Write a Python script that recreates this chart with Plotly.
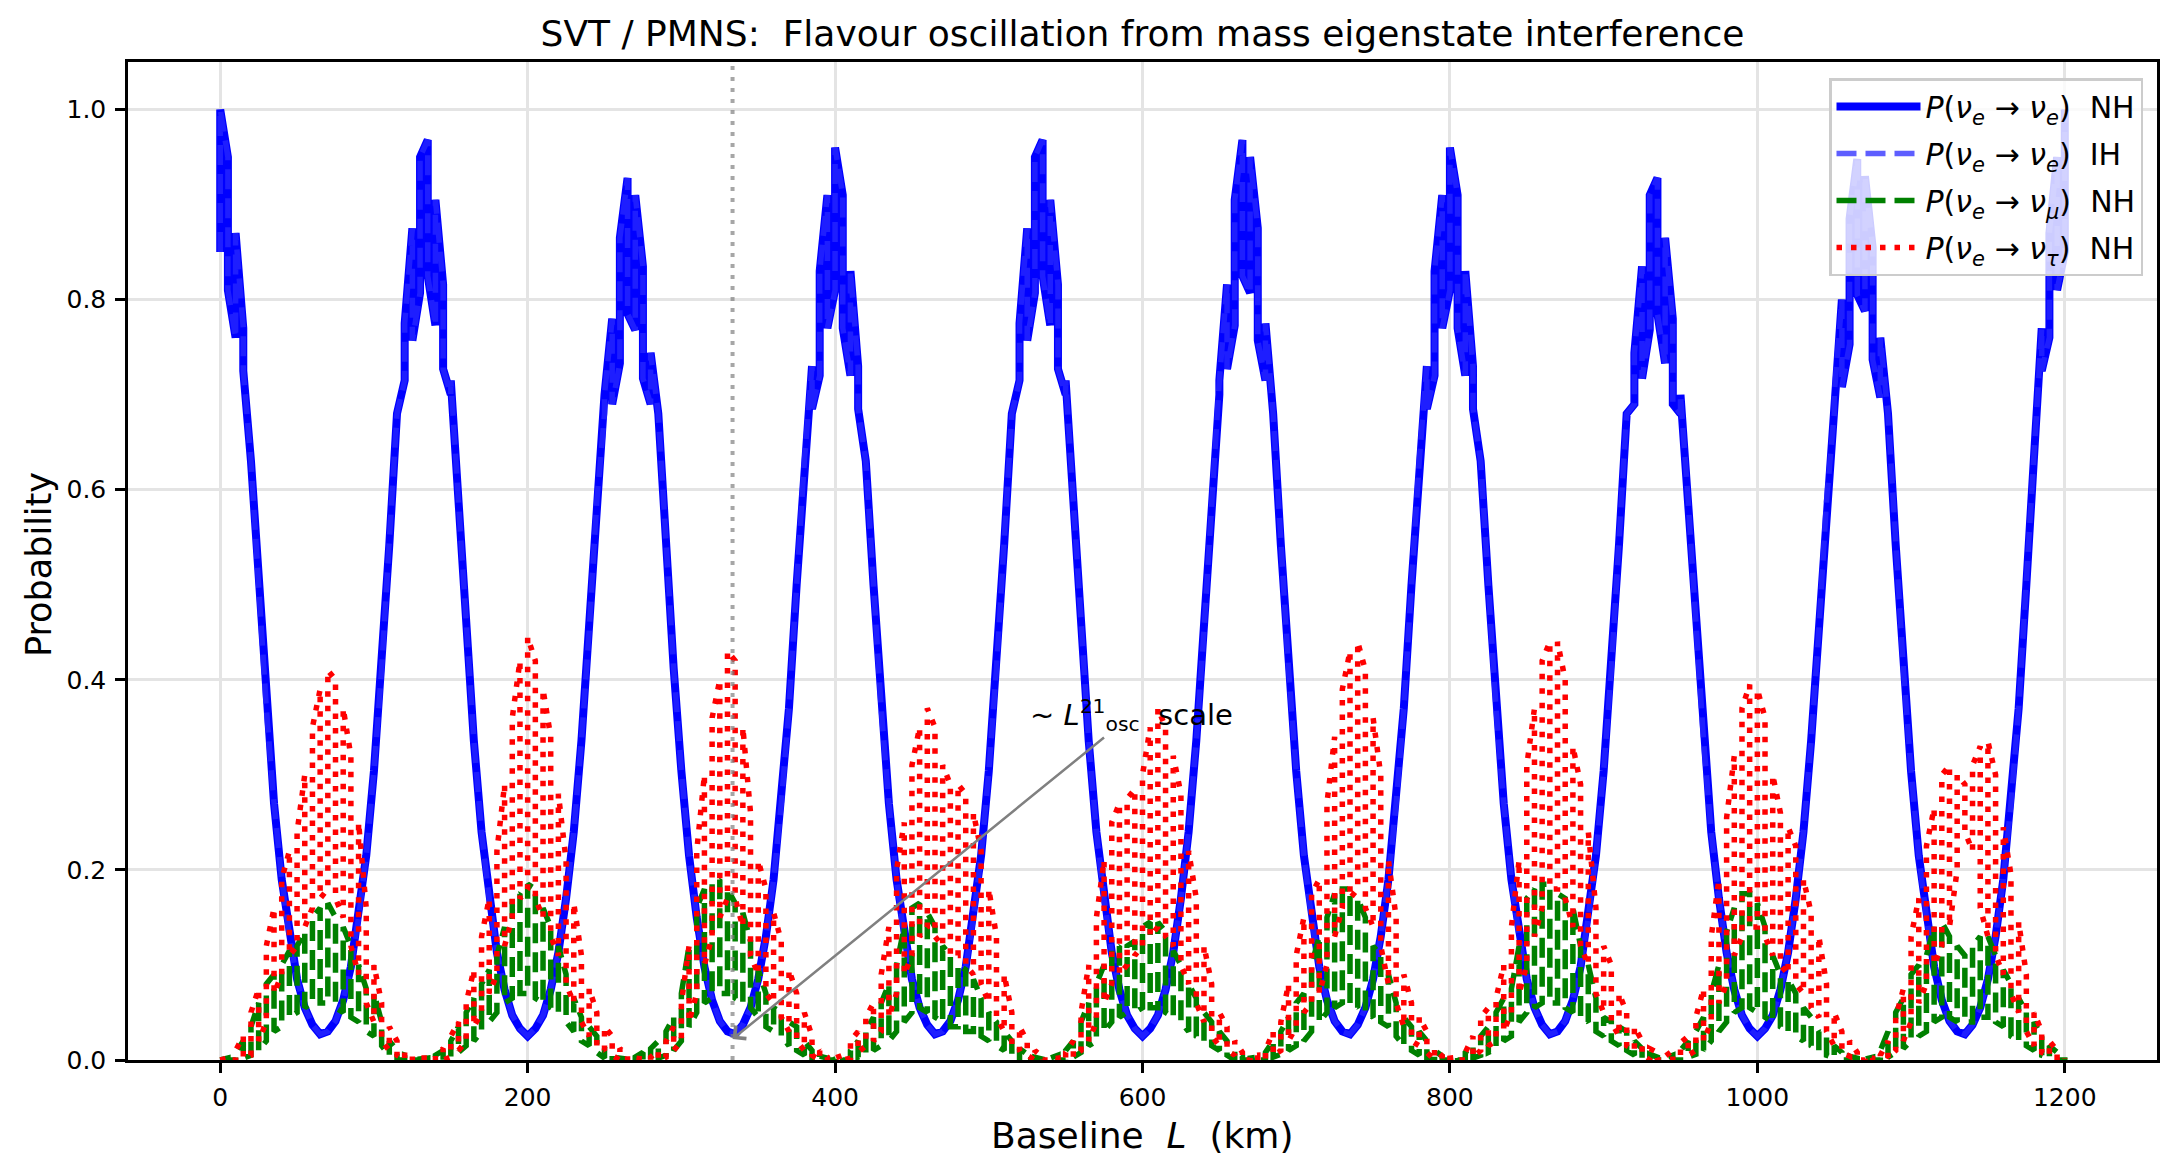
import plotly.graph_objects as go

# ---------------- data (5 km grid) ----------------
baseline_km = list(range(0, 1201, 5))

# P(nu_e -> nu_e), normal hierarchy: upper / lower edge of the fast wiggle
pee_nh_hi = [
    1.0, 0.95, 0.87, 0.77, 0.63, 0.50, 0.37, 0.27, 0.19, 0.13,
    0.085, 0.055, 0.037, 0.027, 0.03, 0.041, 0.063, 0.098, 0.15, 0.215,
    0.304, 0.412, 0.542, 0.68, 0.775, 0.875, 0.95, 0.968, 0.905, 0.816,
    0.715, 0.588, 0.452, 0.336, 0.24, 0.17, 0.113, 0.074, 0.047, 0.033,
    0.025, 0.033, 0.047, 0.074, 0.113, 0.17, 0.24, 0.336, 0.452, 0.588,
    0.70, 0.78, 0.865, 0.928, 0.91, 0.835, 0.744, 0.68, 0.542, 0.412,
    0.304, 0.215, 0.15, 0.098, 0.063, 0.041, 0.03, 0.027, 0.037, 0.055,
    0.085, 0.13, 0.19, 0.27, 0.37, 0.50, 0.63, 0.73, 0.83, 0.91,
    0.96, 0.91, 0.83, 0.73, 0.63, 0.50, 0.37, 0.27, 0.19, 0.13,
    0.085, 0.055, 0.037, 0.027, 0.03, 0.041, 0.063, 0.098, 0.15, 0.215,
    0.304, 0.412, 0.542, 0.68, 0.775, 0.875, 0.95, 0.968, 0.905, 0.816,
    0.715, 0.588, 0.452, 0.336, 0.24, 0.17, 0.113, 0.074, 0.047, 0.033,
    0.025, 0.033, 0.047, 0.074, 0.113, 0.17, 0.24, 0.336, 0.452, 0.588,
    0.715, 0.816, 0.905, 0.968, 0.95, 0.875, 0.775, 0.68, 0.542, 0.412,
    0.304, 0.215, 0.15, 0.098, 0.063, 0.041, 0.03, 0.027, 0.037, 0.055,
    0.085, 0.13, 0.19, 0.27, 0.37, 0.50, 0.63, 0.73, 0.83, 0.91,
    0.96, 0.91, 0.83, 0.73, 0.63, 0.50, 0.37, 0.27, 0.19, 0.13,
    0.085, 0.055, 0.037, 0.027, 0.03, 0.041, 0.063, 0.098, 0.15, 0.215,
    0.304, 0.412, 0.542, 0.68, 0.744, 0.835, 0.91, 0.928, 0.865, 0.78,
    0.70, 0.588, 0.452, 0.336, 0.24, 0.17, 0.113, 0.074, 0.047, 0.033,
    0.025, 0.033, 0.047, 0.074, 0.113, 0.17, 0.24, 0.336, 0.452, 0.588,
    0.70, 0.80, 0.885, 0.948, 0.93, 0.855, 0.76, 0.68, 0.542, 0.412,
    0.304, 0.215, 0.15, 0.098, 0.063, 0.041, 0.03, 0.027, 0.037, 0.055,
    0.085, 0.13, 0.19, 0.27, 0.37, 0.50, 0.63, 0.77, 0.87, 0.95,
    1.0,
]
pee_nh_lo = [
    0.85, 0.81, 0.76, 0.725, 0.63, 0.50, 0.37, 0.27, 0.19, 0.13,
    0.085, 0.055, 0.037, 0.027, 0.03, 0.041, 0.063, 0.098, 0.15, 0.215,
    0.304, 0.412, 0.542, 0.68, 0.715, 0.757, 0.807, 0.825, 0.773, 0.727,
    0.70, 0.588, 0.452, 0.336, 0.24, 0.17, 0.113, 0.074, 0.047, 0.033,
    0.025, 0.033, 0.047, 0.074, 0.113, 0.17, 0.24, 0.336, 0.452, 0.588,
    0.68, 0.69, 0.733, 0.785, 0.768, 0.717, 0.69, 0.68, 0.542, 0.412,
    0.304, 0.215, 0.15, 0.098, 0.063, 0.041, 0.03, 0.027, 0.037, 0.055,
    0.085, 0.13, 0.19, 0.27, 0.37, 0.50, 0.63, 0.685, 0.72, 0.77,
    0.81, 0.77, 0.72, 0.685, 0.63, 0.50, 0.37, 0.27, 0.19, 0.13,
    0.085, 0.055, 0.037, 0.027, 0.03, 0.041, 0.063, 0.098, 0.15, 0.215,
    0.304, 0.412, 0.542, 0.68, 0.715, 0.757, 0.807, 0.825, 0.773, 0.727,
    0.70, 0.588, 0.452, 0.336, 0.24, 0.17, 0.113, 0.074, 0.047, 0.033,
    0.025, 0.033, 0.047, 0.074, 0.113, 0.17, 0.24, 0.336, 0.452, 0.588,
    0.70, 0.727, 0.773, 0.825, 0.807, 0.757, 0.715, 0.68, 0.542, 0.412,
    0.304, 0.215, 0.15, 0.098, 0.063, 0.041, 0.03, 0.027, 0.037, 0.055,
    0.085, 0.13, 0.19, 0.27, 0.37, 0.50, 0.63, 0.685, 0.72, 0.77,
    0.81, 0.77, 0.72, 0.685, 0.63, 0.50, 0.37, 0.27, 0.19, 0.13,
    0.085, 0.055, 0.037, 0.027, 0.03, 0.041, 0.063, 0.098, 0.15, 0.215,
    0.304, 0.412, 0.542, 0.68, 0.69, 0.717, 0.768, 0.785, 0.733, 0.69,
    0.68, 0.588, 0.452, 0.336, 0.24, 0.17, 0.113, 0.074, 0.047, 0.033,
    0.025, 0.033, 0.047, 0.074, 0.113, 0.17, 0.24, 0.336, 0.452, 0.588,
    0.68, 0.708, 0.753, 0.805, 0.788, 0.737, 0.697, 0.68, 0.542, 0.412,
    0.304, 0.215, 0.15, 0.098, 0.063, 0.041, 0.03, 0.027, 0.037, 0.055,
    0.085, 0.13, 0.19, 0.27, 0.37, 0.50, 0.63, 0.725, 0.76, 0.81,
    0.85,
]

# P(nu_e -> nu_e), inverted hierarchy: coincides with NH within the line width
pee_ih_hi = list(pee_nh_hi)
pee_ih_lo = list(pee_nh_lo)

# P(nu_e -> nu_mu), NH
pemu_nh_hi = [
    0, 0.002, 0.008, 0.02, 0.035, 0.06, 0.08, 0.09, 0.10, 0.115,
    0.12, 0.135, 0.15, 0.16, 0.165, 0.15, 0.14, 0.12, 0.10, 0.075,
    0.07, 0.04, 0.02, 0.01, 0.005, 0.002, 0.001, 0.002, 0.005, 0.01,
    0.02, 0.035, 0.05, 0.065, 0.08, 0.095, 0.11, 0.14, 0.17, 0.175,
    0.185, 0.18, 0.16, 0.14, 0.12, 0.09, 0.065, 0.045, 0.035, 0.025,
    0.012, 0.005, 0.002, 0.001, 0.003, 0.008, 0.012, 0.02, 0.03, 0.045,
    0.07, 0.12, 0.16, 0.18, 0.185, 0.19, 0.18, 0.165, 0.155, 0.125,
    0.095, 0.07, 0.055, 0.05, 0.04, 0.035, 0.02, 0.01, 0.004, 0.002,
    0.001, 0.004, 0.01, 0.02, 0.03, 0.045, 0.06, 0.08, 0.10, 0.14,
    0.16, 0.165, 0.155, 0.14, 0.12, 0.11, 0.10, 0.095, 0.085, 0.065,
    0.05, 0.04, 0.03, 0.02, 0.012, 0.006, 0.003, 0.001, 0.002, 0.005,
    0.01, 0.02, 0.04, 0.06, 0.08, 0.10, 0.115, 0.12, 0.12, 0.125,
    0.14, 0.145, 0.145, 0.135, 0.115, 0.10, 0.08, 0.065, 0.05, 0.04,
    0.03, 0.02, 0.01, 0.004, 0.002, 0.003, 0.008, 0.02, 0.03, 0.045,
    0.06, 0.07, 0.10, 0.13, 0.15, 0.175, 0.18, 0.18, 0.17, 0.15,
    0.12, 0.11, 0.09, 0.06, 0.045, 0.035, 0.03, 0.02, 0.01, 0.004,
    0.002, 0.003, 0.008, 0.015, 0.025, 0.035, 0.05, 0.065, 0.075, 0.12,
    0.17, 0.18, 0.185, 0.185, 0.175, 0.17, 0.16, 0.12, 0.10, 0.065,
    0.045, 0.04, 0.035, 0.03, 0.02, 0.012, 0.006, 0.003, 0.002, 0.005,
    0.01, 0.02, 0.03, 0.045, 0.07, 0.10, 0.135, 0.16, 0.175, 0.175,
    0.165, 0.14, 0.11, 0.09, 0.085, 0.07, 0.055, 0.045, 0.03, 0.025,
    0.015, 0.008, 0.004, 0.002, 0.001, 0.003, 0.01, 0.03, 0.05, 0.065,
    0.09, 0.10, 0.11, 0.14, 0.145, 0.13, 0.12, 0.11, 0.12, 0.13,
    0.13, 0.11, 0.095, 0.08, 0.065, 0.05, 0.04, 0.025, 0.015, 0.008,
    0.003,
]
pemu_nh_lo = [
    0, 0, 0, 0.002, 0.005, 0.01, 0.02, 0.03, 0.035, 0.045,
    0.05, 0.055, 0.06, 0.06, 0.06, 0.055, 0.05, 0.045, 0.04, 0.03,
    0.025, 0.015, 0.005, 0, 0, 0, 0, 0, 0, 0,
    0.003, 0.008, 0.015, 0.02, 0.03, 0.04, 0.05, 0.06, 0.065, 0.07,
    0.07, 0.065, 0.06, 0.055, 0.05, 0.04, 0.03, 0.02, 0.015, 0.008,
    0.002, 0, 0, 0, 0, 0, 0, 0.002, 0.005, 0.01,
    0.02, 0.035, 0.05, 0.06, 0.065, 0.07, 0.07, 0.065, 0.06, 0.055,
    0.045, 0.035, 0.03, 0.025, 0.015, 0.01, 0.005, 0, 0, 0,
    0, 0, 0, 0.003, 0.006, 0.01, 0.015, 0.02, 0.03, 0.04,
    0.05, 0.055, 0.05, 0.045, 0.04, 0.035, 0.035, 0.03, 0.03, 0.025,
    0.02, 0.015, 0.01, 0.005, 0, 0, 0, 0, 0, 0,
    0, 0.003, 0.008, 0.015, 0.02, 0.03, 0.04, 0.045, 0.05, 0.05,
    0.055, 0.055, 0.055, 0.05, 0.045, 0.04, 0.03, 0.025, 0.02, 0.015,
    0.01, 0.005, 0, 0, 0, 0, 0, 0.003, 0.006, 0.01,
    0.015, 0.02, 0.03, 0.04, 0.05, 0.055, 0.06, 0.06, 0.055, 0.05,
    0.045, 0.04, 0.035, 0.025, 0.015, 0.01, 0.005, 0.002, 0, 0,
    0, 0, 0, 0.002, 0.005, 0.008, 0.012, 0.02, 0.025, 0.04,
    0.05, 0.055, 0.06, 0.06, 0.06, 0.055, 0.05, 0.045, 0.04, 0.03,
    0.025, 0.02, 0.015, 0.01, 0.005, 0.002, 0, 0, 0, 0,
    0, 0.003, 0.006, 0.01, 0.02, 0.03, 0.04, 0.05, 0.055, 0.055,
    0.05, 0.045, 0.04, 0.035, 0.03, 0.025, 0.02, 0.015, 0.01, 0.005,
    0.002, 0, 0, 0, 0, 0, 0, 0.003, 0.008, 0.012,
    0.02, 0.025, 0.03, 0.04, 0.045, 0.045, 0.04, 0.04, 0.04, 0.045,
    0.045, 0.04, 0.035, 0.025, 0.02, 0.015, 0.01, 0.005, 0.002, 0,
    0,
]

# P(nu_e -> nu_tau), NH
petau_nh_hi = [
    0, 0.002, 0.01, 0.025, 0.05, 0.075, 0.12, 0.16, 0.19, 0.22,
    0.24, 0.30, 0.35, 0.39, 0.41, 0.40, 0.37, 0.32, 0.25, 0.16,
    0.10, 0.06, 0.035, 0.02, 0.008, 0.004, 0.002, 0.002, 0.005, 0.012,
    0.025, 0.04, 0.06, 0.095, 0.13, 0.17, 0.22, 0.29, 0.36, 0.42,
    0.445, 0.42, 0.39, 0.34, 0.28, 0.21, 0.165, 0.11, 0.075, 0.05,
    0.035, 0.025, 0.012, 0.005, 0.002, 0.001, 0.003, 0.01, 0.02, 0.035,
    0.06, 0.12, 0.22, 0.30, 0.36, 0.40, 0.43, 0.42, 0.35, 0.26,
    0.21, 0.18, 0.155, 0.125, 0.095, 0.07, 0.05, 0.025, 0.01, 0.003,
    0.002, 0.005, 0.02, 0.03, 0.045, 0.06, 0.09, 0.14, 0.20, 0.25,
    0.31, 0.35, 0.37, 0.35, 0.31, 0.29, 0.29, 0.28, 0.26, 0.22,
    0.18, 0.13, 0.09, 0.05, 0.035, 0.02, 0.01, 0.003, 0.001, 0.002,
    0.008, 0.02, 0.05, 0.10, 0.15, 0.21, 0.25, 0.27, 0.275, 0.285,
    0.30, 0.35, 0.37, 0.35, 0.32, 0.28, 0.22, 0.17, 0.12, 0.08,
    0.05, 0.035, 0.02, 0.008, 0.004, 0.005, 0.01, 0.03, 0.04, 0.08,
    0.11, 0.15, 0.175, 0.19, 0.27, 0.34, 0.39, 0.43, 0.44, 0.41,
    0.36, 0.30, 0.21, 0.15, 0.09, 0.06, 0.045, 0.03, 0.012, 0.004,
    0.002, 0.003, 0.008, 0.025, 0.045, 0.055, 0.065, 0.10, 0.14, 0.21,
    0.31, 0.37, 0.42, 0.44, 0.44, 0.40, 0.33, 0.29, 0.24, 0.16,
    0.12, 0.10, 0.07, 0.05, 0.035, 0.02, 0.012, 0.008, 0.004, 0.01,
    0.018, 0.025, 0.045, 0.075, 0.13, 0.19, 0.255, 0.32, 0.37, 0.395,
    0.39, 0.36, 0.30, 0.26, 0.245, 0.225, 0.19, 0.155, 0.13, 0.08,
    0.05, 0.03, 0.02, 0.008, 0.004, 0.002, 0.005, 0.02, 0.045, 0.075,
    0.13, 0.17, 0.225, 0.265, 0.30, 0.31, 0.30, 0.29, 0.31, 0.33,
    0.335, 0.30, 0.245, 0.195, 0.145, 0.09, 0.05, 0.03, 0.02, 0.01,
    0.002,
]
petau_nh_lo = [
    0, 0, 0, 0.002, 0.005, 0.02, 0.04, 0.07, 0.09, 0.11,
    0.12, 0.14, 0.16, 0.17, 0.18, 0.17, 0.15, 0.12, 0.09, 0.06,
    0.04, 0.02, 0.01, 0.005, 0, 0, 0, 0, 0, 0,
    0.003, 0.01, 0.02, 0.035, 0.05, 0.07, 0.09, 0.12, 0.15, 0.17,
    0.18, 0.17, 0.15, 0.13, 0.11, 0.08, 0.06, 0.04, 0.025, 0.015,
    0.01, 0.005, 0, 0, 0, 0, 0, 0, 0.003, 0.01,
    0.02, 0.04, 0.07, 0.10, 0.13, 0.15, 0.17, 0.17, 0.14, 0.11,
    0.09, 0.07, 0.06, 0.045, 0.03, 0.02, 0.01, 0.005, 0, 0,
    0, 0, 0.002, 0.008, 0.015, 0.02, 0.03, 0.045, 0.07, 0.09,
    0.11, 0.13, 0.14, 0.13, 0.12, 0.11, 0.11, 0.10, 0.09, 0.08,
    0.06, 0.045, 0.03, 0.015, 0.01, 0.005, 0, 0, 0, 0,
    0, 0.003, 0.01, 0.02, 0.04, 0.06, 0.08, 0.09, 0.10, 0.11,
    0.12, 0.13, 0.14, 0.13, 0.12, 0.10, 0.08, 0.06, 0.04, 0.025,
    0.015, 0.01, 0.005, 0, 0, 0, 0, 0.005, 0.01, 0.02,
    0.035, 0.05, 0.06, 0.07, 0.10, 0.13, 0.16, 0.17, 0.18, 0.16,
    0.14, 0.12, 0.08, 0.06, 0.035, 0.02, 0.015, 0.008, 0, 0,
    0, 0, 0, 0.003, 0.01, 0.015, 0.02, 0.03, 0.05, 0.07,
    0.10, 0.13, 0.16, 0.18, 0.18, 0.17, 0.14, 0.12, 0.10, 0.07,
    0.05, 0.04, 0.025, 0.015, 0.01, 0.005, 0, 0, 0, 0,
    0.002, 0.005, 0.01, 0.02, 0.04, 0.06, 0.08, 0.11, 0.13, 0.14,
    0.14, 0.13, 0.11, 0.10, 0.09, 0.08, 0.07, 0.055, 0.045, 0.03,
    0.015, 0.008, 0.004, 0, 0, 0, 0, 0.002, 0.01, 0.02,
    0.04, 0.06, 0.08, 0.10, 0.12, 0.14, 0.20, 0.24, 0.22, 0.16,
    0.13, 0.11, 0.09, 0.07, 0.05, 0.03, 0.015, 0.008, 0.004, 0,
    0,
]

series_names = [
    "<i>P</i>(<i>ν</i><sub><i>e</i></sub> → <i>ν</i><sub><i>e</i></sub>)  NH",
    "<i>P</i>(<i>ν</i><sub><i>e</i></sub> → <i>ν</i><sub><i>e</i></sub>)  IH",
    "<i>P</i>(<i>ν</i><sub><i>e</i></sub> → <i>ν</i><sub><i>μ</i></sub>)  NH",
    "<i>P</i>(<i>ν</i><sub><i>e</i></sub> → <i>ν</i><sub><i>τ</i></sub>)  NH",
]
x_ticks = [0, 200, 400, 600, 800, 1000, 1200]
y_ticks = [0.0, 0.2, 0.4, 0.6, 0.8, 1.0]
L_osc_marker_km = 333.3

for arr in (pee_nh_hi, pee_nh_lo, pemu_nh_hi, pemu_nh_lo, petau_nh_hi, petau_nh_lo):
    assert len(arr) == len(baseline_km), len(arr)


def fast_wiggle(xs, lo, hi):
    """Trace the band between the read lower/upper edges as a zig-zag."""
    X, Y = [], []
    for i, (x, a, b) in enumerate(zip(xs, lo, hi)):
        X += [x, x]
        Y += [a, b] if i % 2 == 0 else [b, a]
    return X, Y


FONT = "DejaVu Sans"
fig = go.Figure()

styles = [
    (pee_nh_lo, pee_nh_hi, dict(color="#0000ff", width=8)),
    (pee_ih_lo, pee_ih_hi, dict(color="rgba(40,40,255,0.75)", width=5.5, dash="20px,9px")),
    (pemu_nh_lo, pemu_nh_hi, dict(color="#008000", width=5.5, dash="20px,9px")),
    (petau_nh_lo, petau_nh_hi, dict(color="#ff0000", width=5.5, dash="5.5px,9px")),
]
for k, (lo, hi, line) in enumerate(styles):
    xx, yy = fast_wiggle(baseline_km, lo, hi)
    fig.add_trace(go.Scatter(x=xx, y=yy, mode="lines", name=series_names[k],
                             legendgroup=f"g{k}", line=line))

fig.add_shape(type="line", xref="x", yref="paper", x0=L_osc_marker_km, x1=L_osc_marker_km,
              y0=0, y1=1, line=dict(color="rgba(128,128,128,0.7)", width=4, dash="4px,7px"),
              layer="above")

fig.add_annotation(x=L_osc_marker_km, y=0.022, xref="x", yref="y",
                   ax=593, ay=0.363, axref="x", ayref="y",
                   text="~ <i>L</i><sup>21</sup><sub>osc</sub>  scale",
                   font=dict(family=FONT, size=29, color="black"),
                   showarrow=True, arrowhead=4, arrowsize=1.3, arrowwidth=2.5,
                   arrowcolor="#808080", standoff=0)

# axis titles
fig.add_annotation(x=0.5, y=-(1135 - 1060) / 998, xref="paper", yref="paper",
                   text="Baseline  <i>L</i>  (km)", showarrow=False,
                   font=dict(family=FONT, size=36, color="black"),
                   xanchor="center", yanchor="middle")
fig.add_annotation(x=(39 - 128) / 2029, y=0.496, xref="paper", yref="paper",
                   text="Probability", showarrow=False, textangle=-90,
                   font=dict(family=FONT, size=35, color="black"),
                   xanchor="center", yanchor="middle")

axis_common = dict(showline=True, linecolor="black", linewidth=2.5, mirror=True,
                   ticks="outside", ticklen=10, tickwidth=2.5, tickcolor="black",
                   showgrid=True, gridcolor="#e4e4e4", gridwidth=2.5, zeroline=False,
                   tickfont=dict(family=FONT, size=25, color="black"))

fig.update_layout(
    width=2178, height=1174,
    margin=dict(l=128, r=21, t=62, b=114, pad=0),
    paper_bgcolor="white", plot_bgcolor="white",
    font=dict(family=FONT, color="black"),
    title=dict(text="SVT / PMNS:  Flavour oscillation from mass eigenstate interference",
               x=0.5, xref="paper", xanchor="center",
               y=1 - 33 / 1174, yref="container", yanchor="middle",
               font=dict(family=FONT, size=36, color="black")),
    xaxis=dict(range=[-60, 1260], tickvals=x_ticks,
               ticktext=[str(v) for v in x_ticks], ticklabelstandoff=3, **axis_common),
    yaxis=dict(range=[0, 1.05], tickvals=y_ticks,
               ticktext=[f"{v:.1f}" for v in y_ticks], ticklabelstandoff=4, **axis_common),
    legend=dict(x=(2143 - 128) / 2029, y=(1060 - 78) / 998, xanchor="right", yanchor="top",
                bgcolor="rgba(255,255,255,0.8)", bordercolor="#cccccc", borderwidth=2.5,
                font=dict(family=FONT, size=30, color="black"), itemwidth=84,
                tracegroupgap=5),
    showlegend=True,
)

fig.write_html("out.html")
